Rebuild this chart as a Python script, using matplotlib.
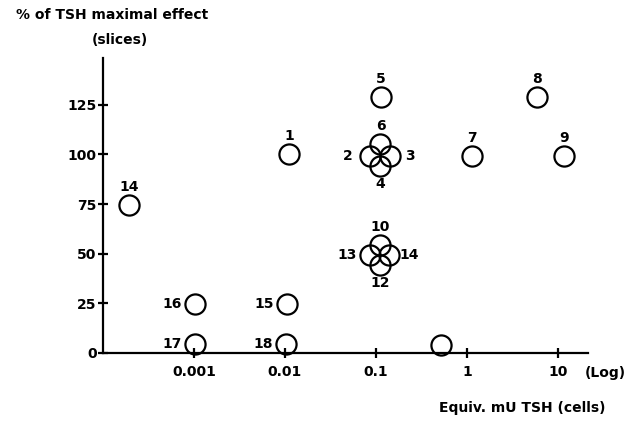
import matplotlib
matplotlib.use('Agg')
import matplotlib.pyplot as plt

plt.rcParams['font.family'] = ['DejaVu Sans']
plt.rcParams['font.weight'] = 'bold'

# Données
labels = ['1', '2', '3', '4', '5', '6', '7', '8', '9',
          '10', '12', '13', '14', '14', '15', '16', '17', '18', '']
dose = [0.0111, 0.087, 0.143, 0.112, 0.114, 0.112, 1.14, 5.9, 11.6,
        0.11, 0.11, 0.085, 0.14, 0.000195, 0.0105, 0.00103, 0.00103, 0.0103, 0.52]
effet = [100, 99, 99, 94, 129, 105, 99, 129, 99,
         54.5, 44.5, 49.5, 49.5, 74.5, 24.5, 24.5, 4.5, 4.5, 4]
# position du numéro : 'up', 'down', 'left', 'right'
place = ['up', 'left', 'right', 'down', 'up', 'up', 'up', 'up', 'up',
         'up', 'down', 'left', 'right', 'up', 'left', 'left', 'left', 'left', 'up']

xticks = [0.001, 0.01, 0.1, 1, 10]
xtick_labels = ['0.001', '0.01', '0.1', '1', '10']
yticks = [0, 25, 50, 75, 100, 125]

fig = plt.figure(figsize=(6.33, 4.26), dpi=100)
ax = fig.add_axes([0.1627, 0.1714, 0.929 - 0.1627, 0.8638 - 0.1714])

ax.plot(dose, effet, 'o', ms=14.5, mfc='none', mec='black', mew=1.6, clip_on=False)

offsets = {'up': (0, 13), 'down': (0, -13), 'left': (-16.5, 0), 'right': (14, 0)}
for lab, x, y, p in zip(labels, dose, effet, place):
    if lab == '':
        continue
    dx, dy = offsets[p]
    ax.annotate(lab, (x, y), xytext=(dx, dy), textcoords='offset points',
                ha='center', va='center', fontsize=10, fontweight='bold')

ax.set_xscale('log')
ax.set_xlim(1e-4, 21.4)
ax.set_ylim(0, 148.5)
ax.set_xticks(xticks)
ax.set_xticklabels(xtick_labels)
ax.minorticks_off()
ax.set_yticks(yticks)

for s in ['top', 'right']:
    ax.spines[s].set_visible(False)
for s in ['left', 'bottom']:
    ax.spines[s].set_linewidth(1.6)

ax.tick_params(axis='both', direction='inout', length=7, width=1.6, labelsize=10)
ax.tick_params(axis='x', pad=5)
ax.tick_params(axis='y', pad=1)

fig.text(0.177, 0.965, '% of TSH maximal effect', ha='center', va='center', fontsize=10, fontweight='bold')
fig.text(0.19, 0.906, '(slices)', ha='center', va='center', fontsize=10, fontweight='bold')
fig.text(0.957, 0.124, '(Log)', ha='center', va='center', fontsize=10, fontweight='bold')
fig.text(0.825, 0.042, 'Equiv. mU TSH (cells)', ha='center', va='center', fontsize=10, fontweight='bold')

plt.savefig('out.png', dpi=100)
